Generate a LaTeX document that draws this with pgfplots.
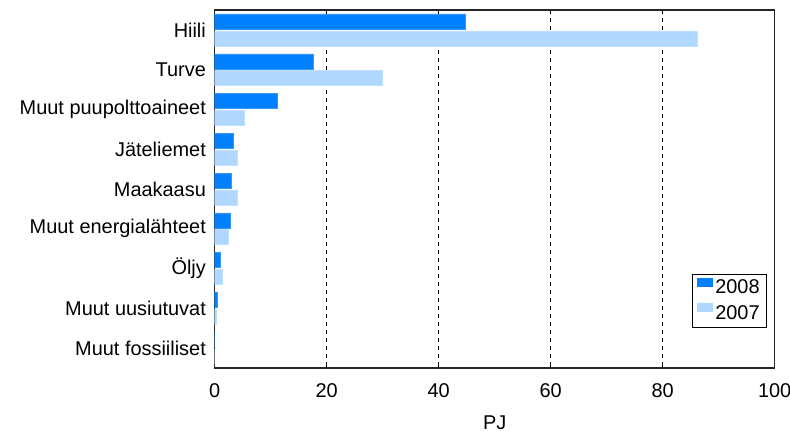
\documentclass[border=0pt]{standalone}
\usepackage{pgfplots}
\pgfplotsset{compat=1.18}
\usepackage{fontspec}
\setmainfont{Liberation Sans}
\definecolor{c2008}{RGB}{0,128,255}
\definecolor{c2007}{RGB}{176,216,255}
\begin{document}
\fontsize{20}{23}\selectfont
\begin{tikzpicture}
\begin{axis}[
  scale only axis, width=560bp, height=358bp,
  xmin=0, xmax=100, ymin=-0.5, ymax=8.5, y dir=reverse,
  xbar, bar width=15bp,
  every axis plot post/.append style={legend image code/.code={\fill[##1, draw=none] (0bp,1.5bp) rectangle (16bp,10.5bp);}},
  ytick={0,...,8},
  yticklabels={Hiili,Turve,Muut puupolttoaineet,Jäteliemet,Maakaasu,Muut energialähteet,Öljy,Muut uusiutuvat,Muut fossiiliset},
  ytick style={draw=none},
  xtick={0,20,...,100},
  xtick pos=bottom, tick align=inside, major tick length=4bp,
  xtick style={line width=1.2bp, black},
  xmajorgrids,
  grid style={black, line width=1.5bp, dash pattern=on 4bp off 4bp},
  axis line style={line width=1.5bp, black!85},
  xlabel={PJ},
  /pgf/number format/assume math mode=true,
  tick label style={font=\fontsize{20}{23}\selectfont},
  label style={font=\fontsize{20}{23}\selectfont},
  xticklabel style={yshift=-9bp},
  xlabel style={yshift=-4bp},
  yticklabel style={xshift=-2bp},
  legend style={at={(1,0)}, anchor=south east, xshift=-7.5bp, yshift=40bp,
    draw=black, line width=1.2bp, font=\fontsize{20}{23}\selectfont,
    row sep=5bp, inner xsep=5bp, inner ysep=3bp},
  legend cell align=left,
]
\addplot[fill=c2008, draw=c2008!80!white, bar shift=8.4bp] coordinates {
  (44.7,0) (17.6,1) (11.2,2) (3.3,3) (3.0,4) (2.7,5) (1.0,6) (0.4,7) (0,8)};
\addplot[fill=c2007, draw=c2007!80!white, bar shift=-8.4bp] coordinates {
  (86.1,0) (29.9,1) (5.2,2) (4.1,3) (4.1,4) (2.4,5) (1.3,6) (0.3,7) (0,8)};
\legend{2008,2007}
\end{axis}
\pgfresetboundingbox
\useasboundingbox ([shift={(-214.7bp,-66bp)}]current axis.south west) rectangle ([shift={(15.3bp,10bp)}]current axis.north east);
\end{tikzpicture}
\end{document}
